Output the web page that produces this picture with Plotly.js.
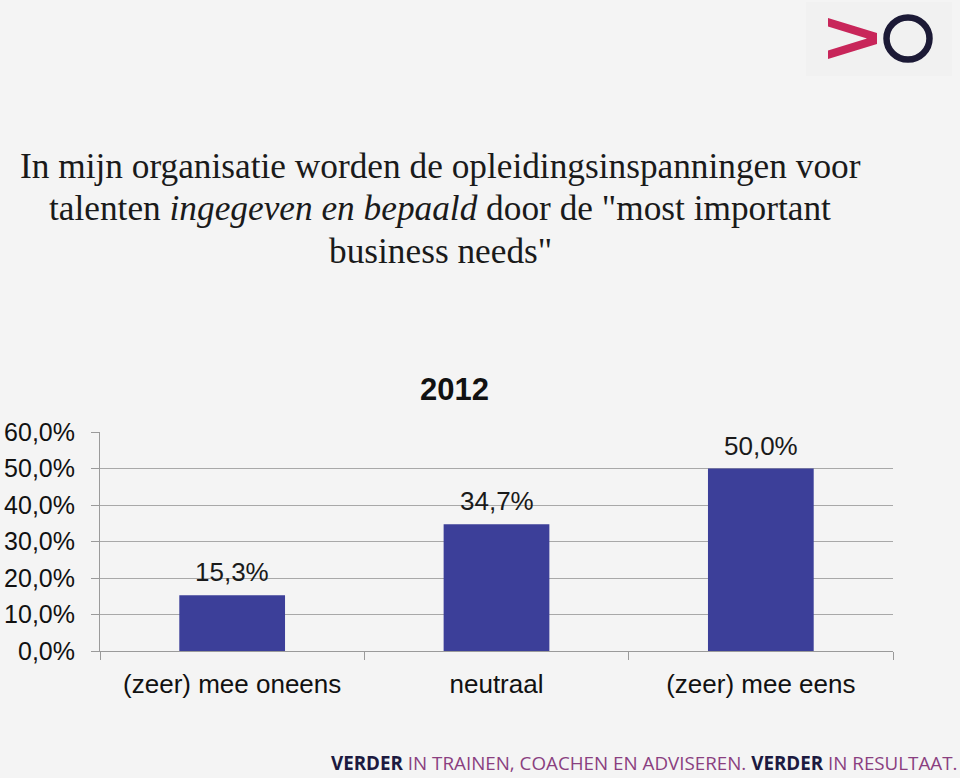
<!DOCTYPE html>
<html><head><meta charset="utf-8">
<script src="https://cdn.plot.ly/plotly-3.0.1.min.js"></script>
<style>
html,body{margin:0;padding:0;background:#f4f4f4;}
#wrap{position:relative;width:960px;height:778px;}
#chart{width:960px;height:778px;}
#logo{position:absolute;left:806px;top:2px;width:146px;height:74px;}
</style></head>
<body><div id="wrap"><div id="chart"></div>
<svg id="logo" viewBox="0 0 146 74" xmlns="http://www.w3.org/2000/svg">
<rect x="0" y="0" width="146" height="74" fill="#f1f1f1"/>
<path d="M22 16 L71 31 L71 42 L22 57 L22 48.5 L61 36.5 L22 24.5 Z" fill="#c8265a"/>
<ellipse cx="102" cy="36.5" rx="21.5" ry="21" fill="none" stroke="#1c1a36" stroke-width="6.5"/>
</svg>
</div>
<script>
const categories = ["(zeer) mee oneens", "neutraal", "(zeer) mee eens"];
const values = [15.3, 34.7, 50.0];
const valueLabels = ["15,3%", "34,7%", "50,0%"];
const yTickVals = [0, 10, 20, 30, 40, 50, 60];
const yTickText = ["0,0%", "10,0%", "20,0%", "30,0%", "40,0%", "50,0%", "60,0%"];
const seriesName = "2012";
const titleLines = [
  "In mijn organisatie worden de opleidingsinspanningen voor",
  "talenten <i>ingegeven en bepaald</i> door de \"most important",
  "business needs\""
];

const W = 960, H = 778;
const mL = 100, mR = 67, mT = 432, mB = 127;
const pw = W - mL - mR, ph = H - mT - mB;
function px(x){ return (x - mL) / pw; }
function py(y){ return (H - mB - y) / ph; }

const trace = {
  type: 'bar', x: categories, y: values,
  marker: {color: '#3c3f99'}, width: 0.4, hoverinfo: 'none', name: seriesName
};

const titleY = [166, 209, 251];
const annotations = titleLines.map((t, i) => ({
  text: t, xref: 'paper', yref: 'paper', x: px(440), y: py(titleY[i]),
  xanchor: 'center', yanchor: 'middle', showarrow: false,
  font: {family: 'Liberation Serif, Times New Roman, serif', size: 35.3, color: '#1a1a1a'}
}));
categories.forEach((c, i) => annotations.push({
  text: valueLabels[i], xref: 'x', yref: 'y', x: c, y: values[i],
  xanchor: 'center', yanchor: 'bottom', yshift: 6, showarrow: false,
  font: {family: 'Liberation Sans, Arial, sans-serif', size: 26, color: '#1a1a1a'}
}));
annotations.push({
  text: '<b>' + seriesName + '</b>', xref: 'paper', yref: 'paper', x: px(454), y: py(389),
  xanchor: 'center', yanchor: 'middle', showarrow: false,
  font: {family: 'Liberation Sans, Arial, sans-serif', size: 31, color: '#111'}
});
annotations.push({
  text: '<b><span style="color:#1c1a40">VERDER</span></b> IN TRAINEN, COACHEN EN ADVISEREN. <b><span style="color:#1c1a40">VERDER</span></b> IN RESULTAAT.',
  xref: 'paper', yref: 'paper', x: px(959), y: py(763),
  xanchor: 'right', yanchor: 'middle', showarrow: false,
  font: {family: 'Open Sans, sans-serif', size: 18.8, color: '#8a3f80'}
});

const layout = {
  width: W, height: H,
  margin: {l: mL, r: mR, t: mT, b: mB, pad: 0},
  paper_bgcolor: '#f4f4f4', plot_bgcolor: '#f4f4f4',
  showlegend: false, bargap: 0.6,
  xaxis: {
    type: 'category', tickson: 'boundaries', ticks: 'outside', ticklen: 8, tickcolor: '#9a9a9a',
    showline: true, linecolor: '#9a9a9a', linewidth: 1, showgrid: false,
    ticklabelstandoff: 10,
    tickfont: {family: 'Liberation Sans, Arial, sans-serif', size: 26, color: '#111'}
  },
  yaxis: {
    range: [0, 60], tickvals: yTickVals, ticktext: yTickText,
    ticks: 'outside', ticklen: 8, tickcolor: '#9a9a9a',
    showline: true, linecolor: '#9a9a9a', linewidth: 1,
    showgrid: true, gridcolor: '#a8a8a8', gridwidth: 1, zeroline: false,
    ticklabelstandoff: 11,
    tickfont: {family: 'Liberation Sans, Arial, sans-serif', size: 25, color: '#111'}
  },
  annotations: annotations
};

Plotly.newPlot('chart', [trace], layout, {displayModeBar: false, staticPlot: true});
</script>
</body></html>
